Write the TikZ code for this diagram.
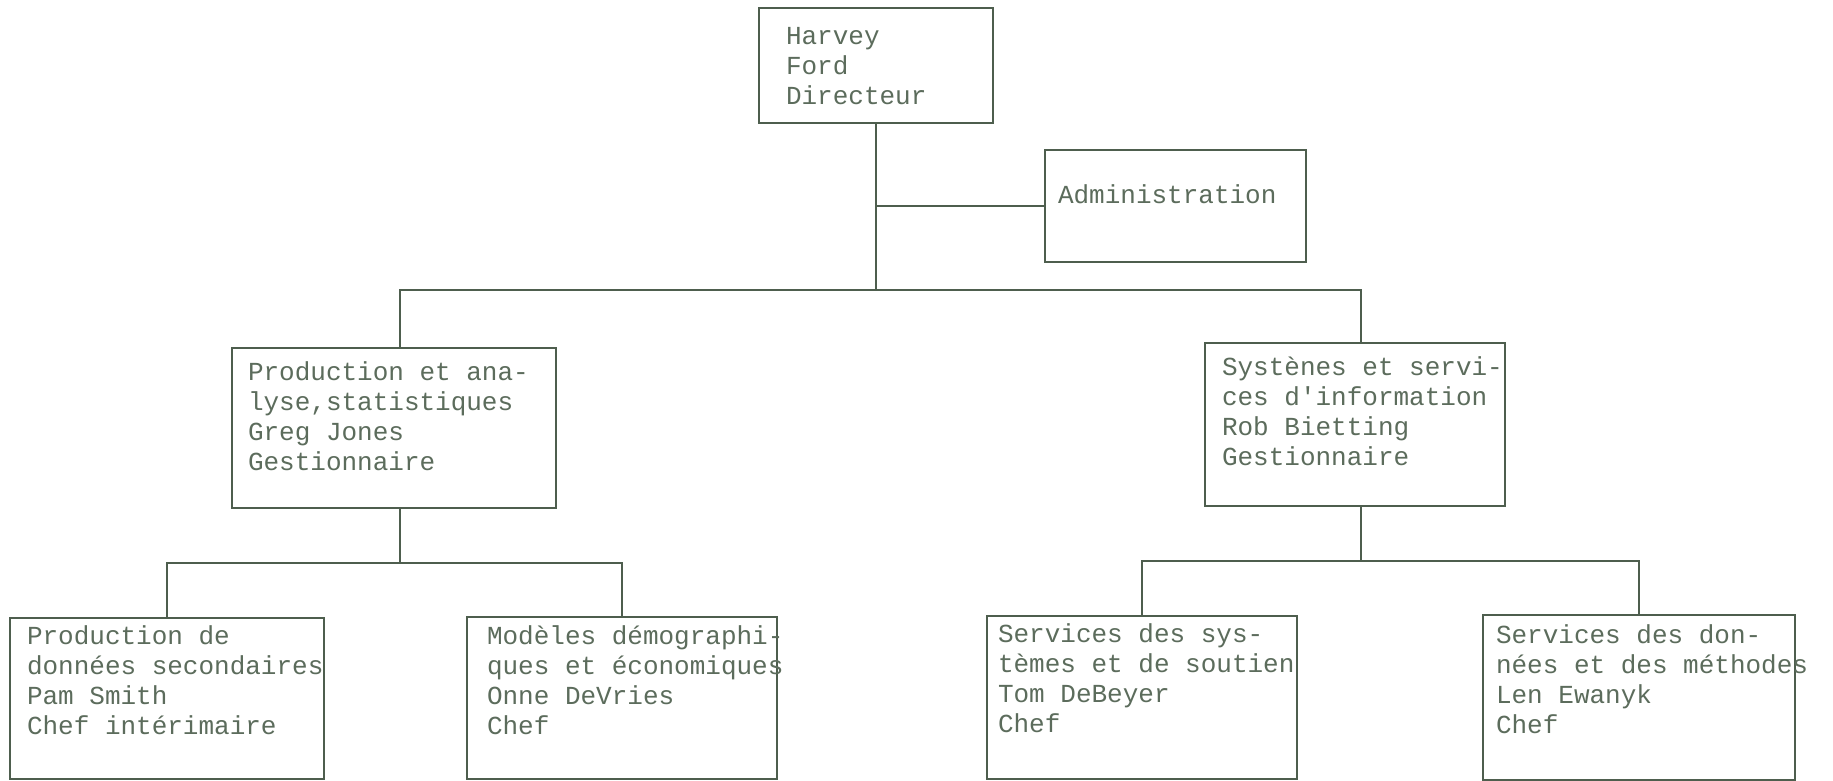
\documentclass[tikz,border=0pt]{standalone}
\usepackage{fontspec}
\setmonofont{Liberation Mono}
\definecolor{inkline}{RGB}{78,94,78}
\definecolor{inktext}{RGB}{92,108,92}
\begin{document}
\begin{tikzpicture}[x=0.5pt,y=-0.5pt,
  box/.style={draw=inkline,line width=1.1pt,inner sep=0pt,outer sep=0pt,rectangle},
  txt/.style={anchor=north west,inner sep=0pt,outer sep=0pt,align=left,text=inktext,
    font=\ttfamily\fontsize{13}{15}\selectfont},
  conn/.style={draw=inkline,line width=1.1pt}]
\useasboundingbox (0,0) rectangle (1833,781);
\fill[white] (0,0) rectangle (1833,781);
% boxes
\node[box,minimum width=117pt,minimum height=57.5pt] (H) at (876,65.5) {};
\node[box,minimum width=130.5pt,minimum height=56pt] (A) at (1175.5,206) {};
\node[box,minimum width=162pt,minimum height=80pt] (L) at (394,428) {};
\node[box,minimum width=150pt,minimum height=81.5pt] (R) at (1355,424.5) {};
\node[box,minimum width=157pt,minimum height=80.5pt] (LA) at (167,698.5) {};
\node[box,minimum width=155pt,minimum height=81pt] (LB) at (622,698) {};
\node[box,minimum width=155pt,minimum height=81.5pt] (RA) at (1142,697.5) {};
\node[box,minimum width=156pt,minimum height=82.5pt] (RB) at (1639,697.5) {};
% texts
\node[txt] (Ht) at (786,27) {Harvey\\Ford\\Directeur};
\node[txt] (At) at (1058,185) {Administration};
\node[txt] (Lt) at (248,362) {Production et ana-\\lyse,statistiques\\Greg Jones\\Gestionnaire};
\node[txt] (Rt) at (1222,357) {Systènes et servi-\\ces d'information\\Rob Bietting\\Gestionnaire};
\node[txt] (LAt) at (27,626) {Production de\\données secondaires\\Pam Smith\\Chef intérimaire};
\node[txt] (LBt) at (487,626) {Modèles démographi-\\ques et économiques\\Onne DeVries\\Chef};
\node[txt] (RAt) at (998,624) {Services des sys-\\tèmes et de soutien\\Tom DeBeyer\\Chef};
\node[txt] (RBt) at (1496,625) {Services des don-\\nées et des méthodes\\Len Ewanyk\\Chef};
% connectors
\coordinate (trunk) at (0,290);
\coordinate (lbar) at (0,563);
\coordinate (rbar) at (0,561);
\coordinate (Ltop) at ([xshift=3pt]L.north);
\coordinate (Lbot) at ([xshift=3pt]L.south);
\coordinate (Rtop) at ([xshift=3pt]R.north);
\coordinate (Rbot) at ([xshift=3pt]R.south);
\draw[conn] (H.south) -- (H.south |- trunk);
\draw[conn] (H.south |- A.west) -- (A.west);
\draw[conn] (Ltop) -- (Ltop |- trunk) -- (Rtop |- trunk) -- (Rtop);
\draw[conn] (Lbot) -- (Lbot |- lbar);
\draw[conn] (LA.north) -- (LA.north |- lbar) -- (LB.north |- lbar) -- (LB.north);
\draw[conn] (Rbot) -- (Rbot |- rbar);
\draw[conn] (RA.north) -- (RA.north |- rbar) -- (RB.north |- rbar) -- (RB.north);
\end{tikzpicture}
\end{document}
